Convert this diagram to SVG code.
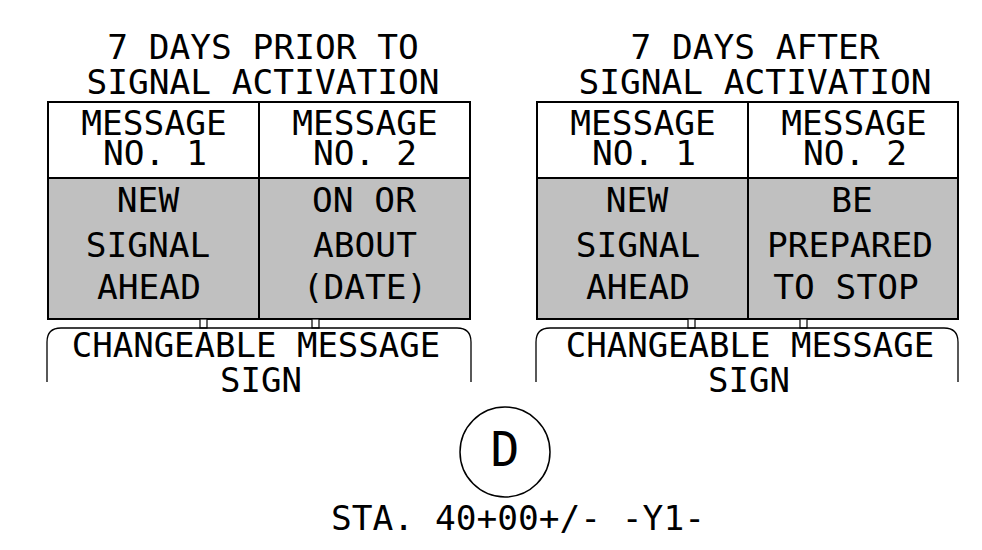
<svg xmlns="http://www.w3.org/2000/svg" width="982" height="550" viewBox="0 0 982 550">
<style>
  .t { font-family: "DejaVu Sans Mono", "Liberation Mono", monospace; font-size: 34.5px; fill: #000; text-anchor: middle; }
  .p { font-size: 34px; }
  .big { font-size: 48px; }
  .hdr { fill: #fff; stroke: none; }
  .gray { fill: #c0c0c0; stroke: none; }
  .frame { fill: none; stroke: #000; stroke-width: 2; }
  .panel { fill: none; stroke: #000; stroke-width: 1.3; }
  .post { fill: #fff; stroke: #000; stroke-width: 1.2; }
</style>
<rect width="982" height="550" fill="#fff"/>

<g id="sign-prior">
  <text class="t" x="263" y="59">7 DAYS PRIOR TO</text>
  <text class="t" x="263" y="94">SIGNAL ACTIVATION</text>
  <rect class="hdr" x="48" y="102" width="422" height="76"/>
  <rect class="gray" x="48" y="178" width="422" height="141"/>
  <rect class="frame" x="48" y="102" width="422" height="217"/>
  <line class="frame" x1="48" y1="178" x2="470" y2="178" stroke-width="1.5"/>
  <line class="frame" x1="259" y1="102" x2="259" y2="319"/>
  <text class="t" x="154" y="135">MESSAGE</text>
  <text class="t" x="155" y="165">NO. 1</text>
  <text class="t" x="365" y="135">MESSAGE</text>
  <text class="t" x="365" y="165">NO. 2</text>
  <text class="t" x="148" y="212">NEW</text>
  <text class="t" x="148" y="257">SIGNAL</text>
  <text class="t" x="149" y="299">AHEAD</text>
  <text class="t" x="364" y="212">ON OR</text>
  <text class="t" x="365" y="257">ABOUT</text>
  <text class="t" x="365" y="299">(DATE)</text>
  <rect class="post" x="200" y="319" width="7" height="9"/>
  <rect class="post" x="312" y="319" width="7" height="9"/>
  <path class="panel" d="M47,382 V342 Q47,328 61,328 H457 Q471,328 471,342 V382"/>
  <text class="t p" x="256" y="357">CHANGEABLE MESSAGE</text>
  <text class="t p" x="261" y="392">SIGN</text>
</g>

<g id="sign-after">
  <text class="t" x="755" y="59">7 DAYS AFTER</text>
  <text class="t" x="755" y="94">SIGNAL ACTIVATION</text>
  <rect class="hdr" x="537" y="102" width="421" height="76"/>
  <rect class="gray" x="537" y="178" width="421" height="141"/>
  <rect class="frame" x="537" y="102" width="421" height="217"/>
  <line class="frame" x1="537" y1="178" x2="958" y2="178" stroke-width="1.5"/>
  <line class="frame" x1="748" y1="102" x2="748" y2="319"/>
  <text class="t" x="643" y="135">MESSAGE</text>
  <text class="t" x="644" y="165">NO. 1</text>
  <text class="t" x="854" y="135">MESSAGE</text>
  <text class="t" x="855" y="165">NO. 2</text>
  <text class="t" x="637" y="212">NEW</text>
  <text class="t" x="638" y="257">SIGNAL</text>
  <text class="t" x="638" y="299">AHEAD</text>
  <text class="t" x="852" y="212">BE</text>
  <text class="t" x="850" y="257">PREPARED</text>
  <text class="t" x="846" y="299">TO STOP</text>
  <rect class="post" x="688" y="319" width="7" height="9"/>
  <rect class="post" x="800" y="319" width="7" height="9"/>
  <path class="panel" d="M536,382 V342 Q536,328 550,328 H944 Q958,328 958,342 V382"/>
  <text class="t p" x="750" y="357">CHANGEABLE MESSAGE</text>
  <text class="t p" x="749" y="392">SIGN</text>
</g>

<g id="location">
  <circle cx="505" cy="452" r="45" fill="none" stroke="#000" stroke-width="1.5"/>
  <text class="t big" x="505" y="466">D</text>
  <text class="t" x="518" y="530">STA. 40+00+/- -Y1-</text>
</g>
<g id="connectors"/>
</svg>
